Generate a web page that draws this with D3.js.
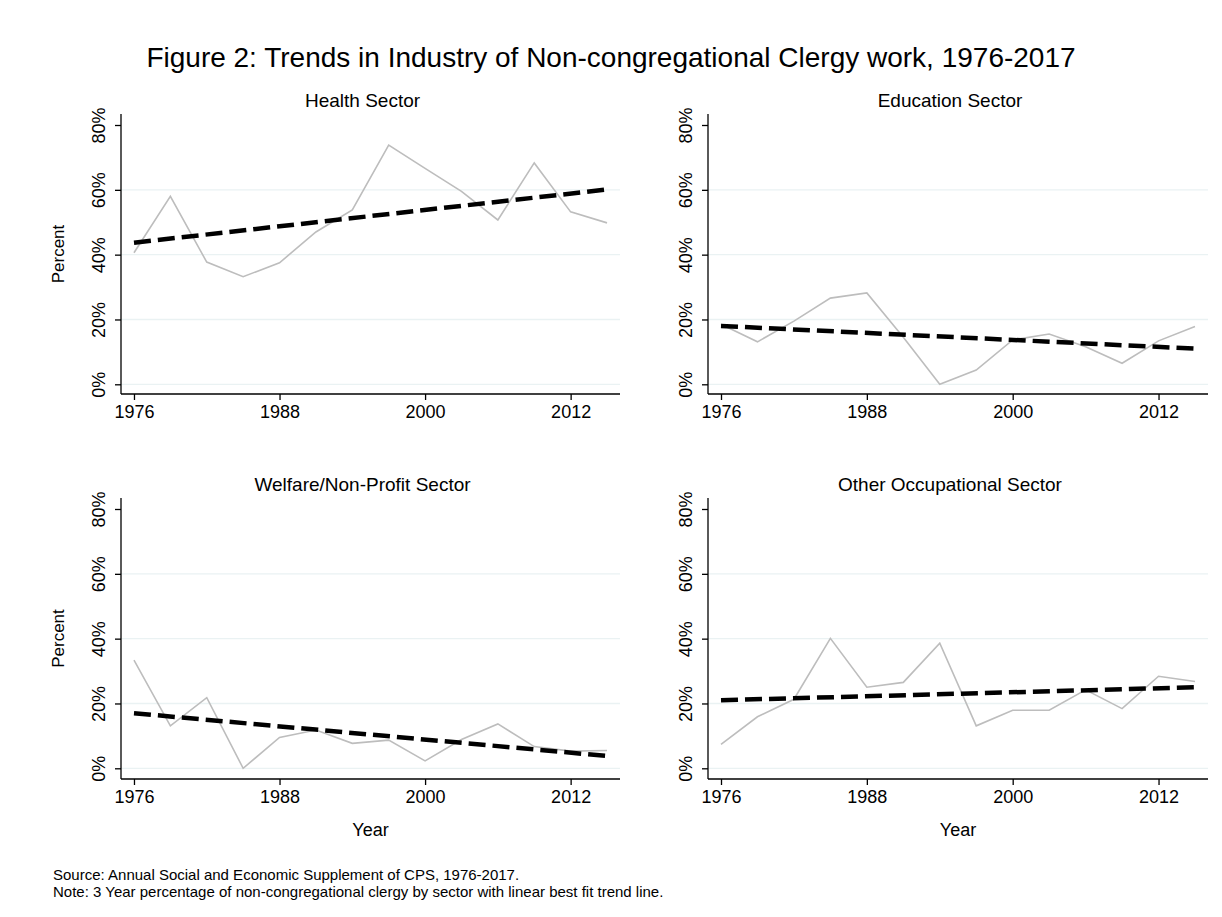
<!DOCTYPE html>
<html>
<head>
<meta charset="utf-8">
<script src="https://cdn.jsdelivr.net/npm/d3@7"></script>
<style>
  html, body { margin: 0; padding: 0; background: #ffffff; }
  svg { display: block; }
  text { font-family: "Liberation Sans", Arial, Helvetica, sans-serif; fill: #000; }
</style>
</head>
<body>
<svg id="chart" width="1222" height="917"></svg>
<script>
// ---------- data ----------
const years = [1976, 1979, 1982, 1985, 1988, 1991, 1994, 1997, 2000, 2003, 2006, 2009, 2012, 2015];
const sectors = ["Health Sector", "Education Sector", "Welfare/Non-Profit Sector", "Other Occupational Sector"];
const healthValues    = [40.6, 58.0, 37.7, 33.2, 37.5, 47.0, 53.8, 73.8, 66.6, 59.5, 50.7, 68.3, 53.2, 49.8];
const educationValues = [18.5, 13.1, 19.5, 26.6, 28.2, 14.5, 0.0, 4.4, 13.7, 15.5, 11.6, 6.5, 13.4, 17.8];
const welfareValues   = [33.4, 13.1, 21.8, 0.0, 9.5, 11.8, 7.7, 8.7, 2.3, 8.9, 13.7, 6.7, 5.3, 5.5];
const otherValues     = [7.4, 15.9, 21.3, 40.1, 25.0, 26.5, 38.6, 13.1, 17.9, 17.9, 24.2, 18.4, 28.4, 26.8];
// linear best-fit trend line, value at first and last year
const trendStart = [43.7, 18.0, 17.0, 21.0];
const trendEnd   = [60.1, 11.0, 3.8, 25.0];
const xTicks = [1976, 1988, 2000, 2012];
const yTicks = [0, 20, 40, 60, 80];
const titleText = "Figure 2: Trends in Industry of Non-congregational Clergy work, 1976-2017";
const sourceText = "Source: Annual Social and Economic Supplement of CPS, 1976-2017.";
const noteText = "Note: 3 Year percentage of non-congregational clergy by sector with linear best fit trend line.";

const seriesValues = [healthValues, educationValues, welfareValues, otherValues];

// ---------- layout ----------
const svg = d3.select("#chart");
const panels = [
  { x0: 121, x1: 620, yTop: 114, yZero: 384.3, yEighty: 125, yAxis: 394, left: true,  bottom: false },
  { x0: 708, x1: 1208, yTop: 114, yZero: 384.3, yEighty: 125, yAxis: 394, left: false, bottom: false },
  { x0: 121, x1: 620, yTop: 498, yZero: 768.3, yEighty: 509, yAxis: 779, left: true,  bottom: true },
  { x0: 708, x1: 1208, yTop: 498, yZero: 768.3, yEighty: 509, yAxis: 779, left: false, bottom: true }
];

svg.append("text")
  .attr("x", 611).attr("y", 67)
  .attr("text-anchor", "middle")
  .style("font-size", "28px")
  .text(titleText);

panels.forEach((p, i) => {
  const g = svg.append("g");
  const x = d3.scaleLinear().domain([1974.93, 2016.07]).range([p.x0, p.x1]);
  const y = d3.scaleLinear().domain([0, 80]).range([p.yZero, p.yEighty]);

  // gridlines
  g.append("g").selectAll("line").data(yTicks.filter(t => t < 80)).join("line")
    .attr("x1", p.x0).attr("x2", p.x1)
    .attr("y1", d => y(d)).attr("y2", d => y(d))
    .attr("stroke", "#eaf2f3").attr("stroke-width", 1.3);

  // y axis
  const yAxis = d3.axisLeft(y).tickValues(yTicks).tickSize(6).tickFormat(d => d + "%");
  const ya = g.append("g").attr("transform", `translate(${p.x0},0)`).call(yAxis);
  ya.select(".domain").remove();
  ya.append("line").attr("x1", 0).attr("x2", 0).attr("y1", p.yTop).attr("y2", p.yAxis)
    .attr("stroke", "#000").attr("stroke-width", 1.3);
  ya.selectAll(".tick line").attr("stroke", "#000").attr("stroke-width", 1.3);
  ya.selectAll(".tick text")
    .attr("x", 0).attr("y", 0).attr("dy", 0)
    .attr("transform", "translate(-16,0) rotate(-90)")
    .attr("text-anchor", "middle")
    .style("font-size", "18px")
    .style("font-family", "'Liberation Sans', Arial, sans-serif")
    .attr("fill", "#000");

  // x axis
  const xAxis = d3.axisBottom(x).tickValues(xTicks).tickSize(6).tickFormat(d3.format("d"));
  const xa = g.append("g").attr("transform", `translate(0,${p.yAxis})`).call(xAxis);
  xa.select(".domain").remove();
  xa.append("line").attr("x1", p.x0).attr("x2", p.x1).attr("y1", 0).attr("y2", 0)
    .attr("stroke", "#000").attr("stroke-width", 1.3);
  xa.selectAll(".tick line").attr("stroke", "#000").attr("stroke-width", 1.3);
  xa.selectAll(".tick text")
    .attr("y", 24).attr("dy", 0)
    .style("font-size", "18px")
    .style("font-family", "'Liberation Sans', Arial, sans-serif")
    .attr("fill", "#000");

  // data line
  const line = d3.line().x((d, k) => x(years[k])).y(d => y(d));
  g.append("path").datum(seriesValues[i])
    .attr("d", line)
    .attr("fill", "none").attr("stroke", "#bdbdbd").attr("stroke-width", 1.6)
    .attr("stroke-linejoin", "miter");

  // trend line
  const tr = [[years[0], trendStart[i]], [years[years.length - 1], trendEnd[i]]];
  g.append("path").datum(tr)
    .attr("d", d3.line().x(d => x(d[0])).y(d => y(d[1])))
    .attr("fill", "none").attr("stroke", "#000").attr("stroke-width", 4.5)
    .attr("stroke-dasharray", "17,7");

  // panel title
  g.append("text")
    .attr("x", (p.x0 + p.x1) / 2 - 8).attr("y", p.yTop - 7)
    .attr("text-anchor", "middle")
    .style("font-size", "19px")
    .text(sectors[i]);

  if (p.left) {
    g.append("text")
      .attr("transform", `translate(64,${(p.yTop + p.yAxis) / 2}) rotate(-90)`)
      .attr("text-anchor", "middle")
      .style("font-size", "17px")
      .text("Percent");
  }
  if (p.bottom) {
    g.append("text")
      .attr("x", (p.x0 + p.x1) / 2).attr("y", p.yAxis + 57)
      .attr("text-anchor", "middle")
      .style("font-size", "18px")
      .text("Year");
  }
});

svg.append("text").attr("x", 53).attr("y", 880).style("font-size", "15px").text(sourceText);
svg.append("text").attr("x", 53).attr("y", 897).style("font-size", "15px").text(noteText);
</script>
</body>
</html>
